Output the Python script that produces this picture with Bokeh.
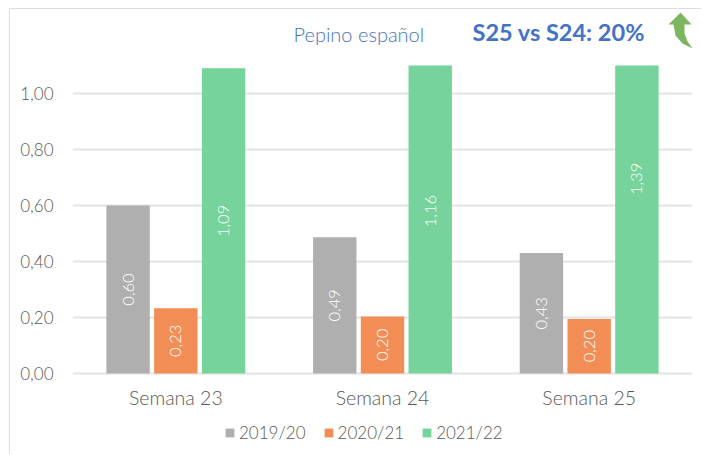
from bokeh.plotting import figure
from bokeh.models import ColumnDataSource, FactorRange, Label, FixedTicker, CustomJSTickFormatter, Range1d, Legend, LegendItem, PolyAnnotation
from bokeh.core.properties import value
from bokeh.embed import file_html
from bokeh.resources import INLINE
from bokeh.transform import dodge

weeks = ["Semana 23", "Semana 24", "Semana 25"]
seasons = ["2019/20", "2020/21", "2021/22"]
v1920 = [0.60, 0.487, 0.43]
v2021 = [0.233, 0.204, 0.195]
v2122 = [1.09, 1.16, 1.39]
lab1920 = ["0,60", "0,49", "0,43"]
lab2021 = ["0,23", "0,20", "0,20"]
lab2122 = ["1,09", "1,16", "1,39"]
colors = ["#AFAFAF", "#F28E55", "#75D39B"]
ticks = [0.0, 0.2, 0.4, 0.6, 0.8, 1.0]
VISIBLE_MAX = 1.1
FONT = "Lato Light, Lato"
OX, OY = 10, 9          # page position of the canvas, inside the thin border
W, H = 702 - OX, 455 - OY
X0, Y0, PX = 72, 373, 280.0   # page x of frame left, page y of value 0, pixels per unit
TEXT = "#595959"

def vy(page_y):
    return (Y0 - page_y) / PX

p = figure(width=W, height=H, x_range=FactorRange(*weeks, range_padding=0, factor_padding=0),
           y_range=Range1d(vy(455), vy(OY)), output_backend="svg", toolbar_location=None,
           x_axis_location=None,
           min_border_left=X0 - OX, min_border_right=10, min_border_top=0, min_border_bottom=0,
           styles={"margin-left": f"{OX - 1}px", "margin-top": f"{OY - 1}px",
                   "border-left": "1px solid #DDDDDD", "border-top": "1px solid #DDDDDD"})
p.outline_line_color = None
p.background_fill_color = "white"
p.border_fill_color = "white"

p.ygrid.ticker = FixedTicker(ticks=ticks)
p.ygrid.grid_line_color = "#E3E3E3"
p.ygrid.grid_line_width = 2
p.xgrid.grid_line_color = None

p.yaxis.ticker = FixedTicker(ticks=ticks)
p.yaxis.formatter = CustomJSTickFormatter(code="return tick.toFixed(2).replace('.', ',')")
p.yaxis.axis_line_color = None
p.yaxis.major_tick_line_color = None
p.yaxis.minor_tick_line_color = None
p.yaxis.major_label_text_font = FONT
p.yaxis.major_label_text_font_size = "17px"
p.yaxis.major_label_text_color = TEXT
p.yaxis.major_label_standoff = 13

source = ColumnDataSource(dict(week=weeks,
                               a=[min(v, VISIBLE_MAX) for v in v1920],
                               b=[min(v, VISIBLE_MAX) for v in v2021],
                               c=[min(v, VISIBLE_MAX) for v in v2122],
                               la=lab1920, lb=lab2021, lc=lab2122,
                               ya=[v / 2 for v in v1920], yb=[v / 2 for v in v2021],
                               yc=[v / 2 for v in v2122]))
renderers = []
offs = [-0.231, 0.0, 0.231]
for col, lab, ymid, off, color, name in zip("abc", ["la", "lb", "lc"], ["ya", "yb", "yc"], offs, colors, seasons):
    r = p.vbar(x=dodge("week", off, range=p.x_range), top=col, width=0.21, source=source,
               fill_color=color, line_color=None)
    renderers.append((name, r))
    p.text(x=dodge("week", off, range=p.x_range), y=ymid, text=lab, source=source, angle=1.5708,
           text_align="center", text_baseline="middle", text_color="white",
           text_font=value(FONT), text_font_size="16.5px")

p.text(x=weeks, y=[vy(397)] * 3, text=weeks, text_align="center", text_baseline="middle",
       text_color=TEXT, text_font=value(FONT), text_font_size="19.5px")

legend = Legend(items=[LegendItem(label=n, renderers=[r]) for n, r in renderers],
                orientation="horizontal", location=(152, 12), border_line_color=None,
                background_fill_alpha=0, glyph_width=11, glyph_height=11, spacing=17,
                label_text_font=FONT, label_text_font_size="17px", label_text_color=TEXT,
                padding=0, margin=0, label_standoff=4)
p.add_layout(legend, "center")

p.add_layout(Label(x=293 - X0, y=vy(33), x_units="screen", y_units="data", text="Pepino español",
                   text_font=FONT, text_font_size="20px", text_color="#4472C4",
                   text_align="left", text_baseline="middle"))
p.add_layout(Label(x=472 - X0, y=vy(31), x_units="screen", y_units="data", text="S25 vs S24: 20%",
                   text_font="Lato", text_font_size="23.5px", text_font_style="bold", text_color="#4472C4",
                   text_align="left", text_baseline="middle"))

arrow_x = [680, 668, 673, 675, 682, 692, 687, 684, 684, 691]
arrow_y = [12, 24, 24, 35, 43, 48, 41, 33, 24, 24]
p.add_layout(PolyAnnotation(xs=[x - X0 for x in arrow_x], ys=[vy(y) for y in arrow_y],
                            xs_units="screen", ys_units="data",
                            fill_color="#7CB661", fill_alpha=1, line_color=None))

html = file_html(p, INLINE)
open("out.html", "w").write(html)
